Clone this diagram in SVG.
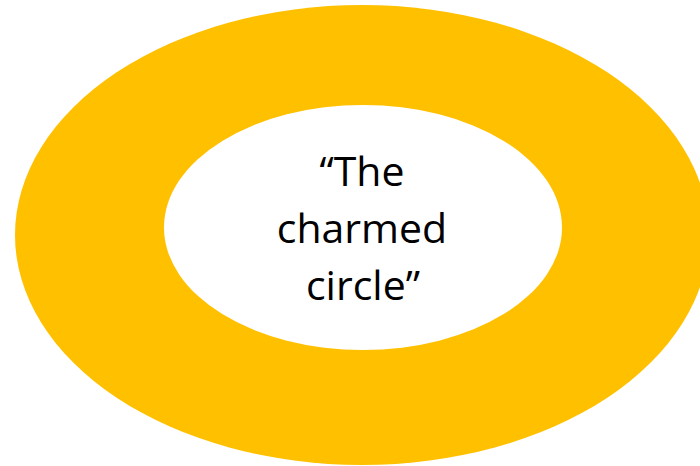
<svg xmlns="http://www.w3.org/2000/svg" width="700" height="466" viewBox="0 0 700 466">
<style>
.ring{fill:#FFC000;}
.hole{fill:#FFFFFF;}
.lbl{font-family:"Open Sans","Noto Sans",sans-serif;font-size:41px;fill:#000000;text-anchor:middle;}
</style>
<rect width="700" height="466" fill="#FFFFFF"/>
<g id="outer">
<ellipse class="ring" cx="362" cy="235" rx="347" ry="230"/>
</g>
<g id="inner">
<ellipse class="hole" cx="363" cy="227.5" rx="199" ry="122.5"/>
<text class="lbl" x="362" y="186">“The</text>
<text class="lbl" x="362" y="243">charmed</text>
<text class="lbl" x="363" y="300">circle”</text>
</g>
<g id="connectors"></g>
</svg>
